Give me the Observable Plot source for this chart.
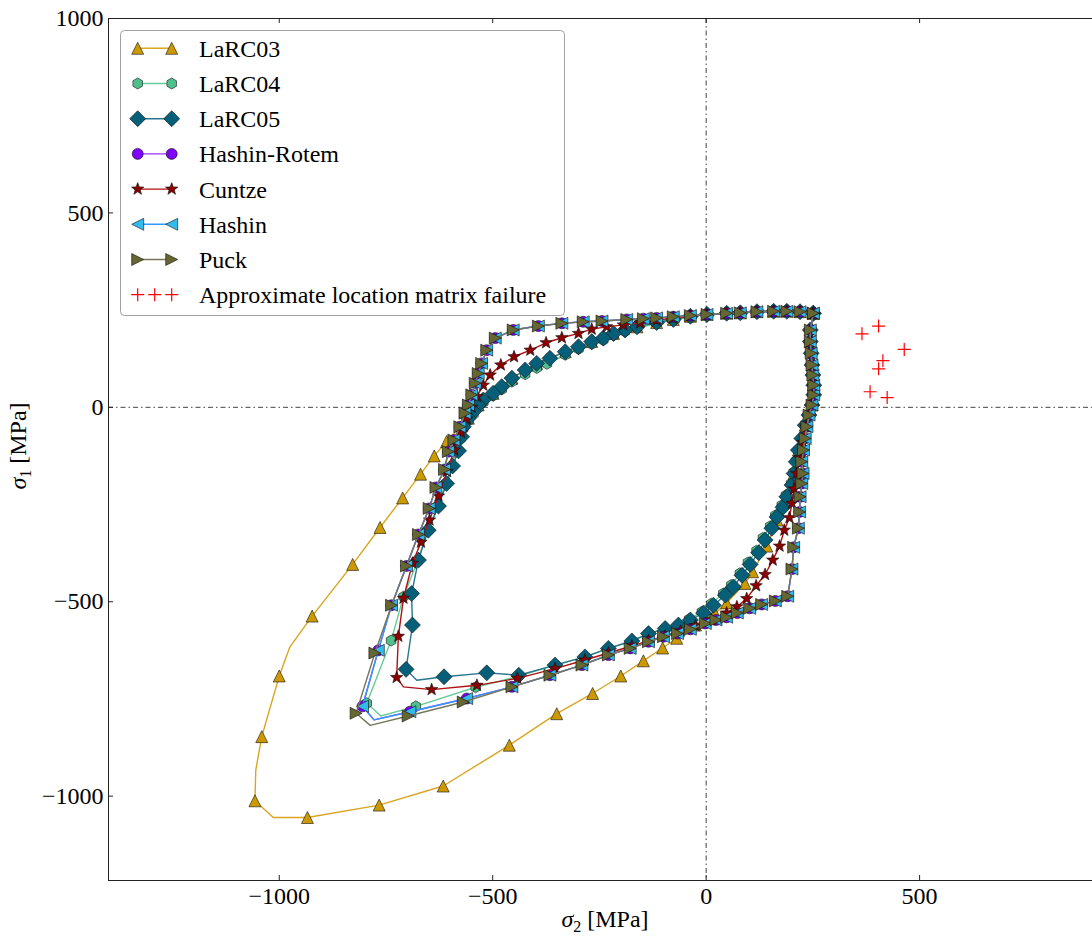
<!DOCTYPE html>
<html><head><meta charset="utf-8">
<script src="https://cdn.jsdelivr.net/npm/d3@7"></script>
<script src="https://cdn.jsdelivr.net/npm/@observablehq/plot@0.6"></script>
<style>body{margin:0;background:#fff} svg{display:block}</style>
</head><body><div id="chart"></div>
<script>
// ---- Data (σ2, σ1) in MPa; third element 0 = line vertex without marker ----
const seriesNames = ["LaRC03","LaRC04","LaRC05","Hashin-Rotem","Cuntze","Hashin","Puck"];
const matrixLabel = "Approximate location matrix failure";
const xTicks = [-1000,-500,0,500];
const yTicks = [-1000,-500,0,500,1000];

const larc03 = [[251,242],[220,246],[189,247],[158,247],[119,246],[80,243],[48,242],[2,239],[-37,234],[-77,226],[-116,218],[-162,207],[-217,190],[-268,169],[-330,143],[-397,113],[-455,75],[-499,36],[-534,6],[-557,-28],[-608,-88],[-637,-125],[-669,-172],[-711,-233],[-764,-309],[-828,-404],[-923,-537],[-975,-616,0],[-1000,-691],[-1041,-847],[-1055,-933,0],[-1057,-1012],[-1014,-1055,0],[-934,-1055],[-766,-1023],[-616,-974],[-461,-869],[-350,-788],[-266,-736],[-200,-691],[-147,-652],[-102,-619],[-69,-594],[-25,-560],[21,-530],[48,-503],[91,-453],[109,-423],[142,-357],[166,-290],[189,-230],[206,-170],[216,-110],[232,-46],[248,6],[252,57],[248,109],[244,169],[251,242]];

const larc04 = [[251,242],[220,246],[189,247],[158,247],[119,246],[80,243],[48,242],[2,239],[-37,234],[-77,225],[-116,216],[-162,204],[-190,195],[-217,185],[-241,173],[-268,163],[-299,150],[-330,135],[-373,112],[-397,101],[-424,85],[-455,66],[-479,46],[-499,30],[-522,13],[-534,0],[-545,-17],[-557,-34],[-569,-55],[-575,-80],[-582,-115],[-596,-154],[-610,-198],[-629,-256],[-653,-318],[-676,-395],[-709,-487],[-738,-600],[-795,-761],[-762,-794,0],[-680,-769],[-540,-720],[-440,-692],[-354,-663],[-284,-642],[-229,-620],[-174,-601],[-135,-582],[-96,-569],[-65,-560],[-40,-545],[-10,-526],[12,-505],[40,-479],[59,-457],[79,-427],[98,-399],[118,-369],[133,-336],[150,-306],[162,-278],[177,-252],[187,-226],[199,-196],[205,-167],[210,-138],[216,-110],[224,-80],[232,-46],[241,-20],[248,6],[252,32],[252,57],[250,83],[248,109],[246,139],[244,169],[244,199],[251,242]];

const larc05 = [[251,242],[220,246],[189,247],[158,247],[119,246],[80,243],[48,242],[2,239],[-37,234],[-77,226],[-116,218],[-162,207],[-190,199],[-217,190],[-241,178],[-268,169],[-299,156],[-330,143],[-366,126],[-397,113],[-424,96],[-455,75],[-479,53],[-499,36],[-522,19],[-534,6],[-545,-11],[-557,-28],[-569,-50],[-573,-76],[-580,-112],[-594,-151],[-608,-196],[-627,-254],[-651,-316],[-674,-393],[-690,-479],[-688,-560],[-703,-674],[-678,-702,0],[-614,-693],[-514,-683],[-439,-689],[-354,-663],[-284,-642],[-229,-620],[-174,-601],[-135,-582],[-96,-569],[-65,-560],[-37,-547],[-6,-529],[17,-509],[45,-483],[64,-462],[84,-432],[103,-404],[123,-374],[138,-341],[154,-311],[166,-282],[180,-257],[189,-230],[201,-200],[206,-170],[211,-140],[216,-110],[224,-80],[232,-46],[241,-20],[248,6],[252,32],[252,57],[250,83],[248,109],[246,139],[244,169],[244,199],[251,242]];

const hashinRotem = [[251,242],[220,246],[189,247],[158,247],[119,246],[80,243],[48,242],[2,239],[-37,236],[-77,233],[-116,230],[-147,228],[-186,226],[-244,222],[-288,220],[-338,216],[-393,209],[-452,199],[-494,178],[-514,147],[-526,113],[-534,87],[-541,62],[-549,32],[-557,6],[-565,-15],[-577,-50],[-591,-84],[-604,-114],[-613,-160],[-633,-206],[-649,-260],[-674,-327],[-702,-408],[-737,-509],[-768,-625],[-805,-769],[-778,-804,0],[-694,-783],[-561,-749],[-455,-719],[-366,-689],[-291,-663],[-229,-637],[-178,-620],[-135,-603],[-100,-590],[-67,-582],[-37,-571],[-2,-556],[23,-547],[48,-540],[73,-529],[102,-517],[130,-507],[162,-498],[191,-486],[201,-416],[205,-360],[216,-311],[219,-269],[220,-230],[224,-196],[227,-170],[224,-140],[228,-110],[232,-80],[236,-50],[241,-20],[248,6],[252,32],[252,57],[250,83],[248,109],[246,139],[244,169],[244,199],[251,242]];

const cuntze = [[251,242],[220,246],[189,247],[158,247],[119,246],[80,243],[48,242],[2,239],[-37,235],[-77,230],[-116,224],[-155,217],[-194,212],[-233,207],[-268,201],[-299,190],[-338,179],[-375,166],[-412,147],[-450,130],[-481,109],[-506,83],[-522,57],[-537,28],[-549,0],[-561,-30],[-574,-65],[-590,-110],[-607,-165],[-627,-228],[-648,-290],[-668,-347],[-688,-401],[-709,-491],[-721,-589],[-725,-695],[-709,-719,0],[-643,-726],[-537,-715],[-442,-697],[-354,-672],[-284,-650],[-229,-632],[-174,-614],[-135,-600],[-96,-588],[-60,-576],[-25,-562],[12,-546],[48,-529],[72,-513],[95,-492],[117,-459],[138,-430],[156,-393],[172,-357],[183,-316],[195,-284],[201,-247],[206,-210],[212,-170],[219,-130],[226,-90],[234,-50],[241,-20],[248,6],[252,32],[252,57],[250,83],[248,109],[246,139],[244,169],[244,199],[251,242]];

const hashin = [[251,242],[220,246],[189,247],[158,247],[119,246],[80,243],[48,242],[2,239],[-37,236],[-77,233],[-116,230],[-147,228],[-186,226],[-244,222],[-288,220],[-338,216],[-393,209],[-452,199],[-494,178],[-514,147],[-526,113],[-534,87],[-541,62],[-549,32],[-557,6],[-565,-15],[-577,-50],[-591,-84],[-604,-114],[-613,-160],[-633,-206],[-649,-260],[-674,-327],[-702,-408],[-737,-509],[-768,-625],[-805,-769],[-778,-804,0],[-694,-783],[-561,-749],[-455,-719],[-366,-689],[-291,-663],[-229,-637],[-178,-620],[-135,-603],[-100,-590],[-67,-582],[-37,-571],[-2,-556],[23,-547],[48,-540],[73,-529],[102,-517],[130,-507],[162,-498],[191,-486],[201,-416],[205,-360],[216,-311],[219,-269],[220,-230],[224,-196],[227,-170],[224,-140],[228,-110],[232,-80],[236,-50],[241,-20],[248,6],[252,32],[252,57],[250,83],[248,109],[246,139],[244,169],[244,199],[251,242]];

const puck = [[251,242],[220,246],[189,247],[158,247],[119,246],[80,243],[48,242],[2,239],[-37,236],[-77,233],[-116,230],[-147,228],[-186,226],[-244,222],[-288,220],[-338,216],[-393,209],[-452,199],[-494,178],[-514,147],[-526,113],[-534,87],[-541,62],[-549,32],[-557,6],[-565,-15],[-577,-50],[-591,-84],[-604,-114],[-613,-160],[-633,-206],[-649,-260],[-674,-327],[-702,-408],[-737,-509],[-776,-632],[-820,-787],[-787,-818,0],[-698,-794],[-569,-758],[-455,-719],[-366,-689],[-291,-663],[-229,-637],[-178,-620],[-135,-603],[-100,-590],[-67,-582],[-37,-571],[-2,-556],[23,-547],[48,-540],[73,-529],[102,-517],[130,-507],[162,-498],[191,-486],[201,-416],[205,-360],[216,-311],[219,-269],[220,-230],[224,-196],[227,-170],[224,-140],[228,-110],[232,-80],[236,-50],[241,-20],[248,6],[252,32],[252,57],[250,83],[248,109],[246,139],[244,169],[244,199],[251,242]];

const matrixX = [365,404,464,414,404,384,424];
const matrixY = [189,209,149,120,99,40,25];

// ---- Symbols (r = half-width in px) ----
const sym = f => ({draw(c, size){ const r = Math.sqrt(size/Math.PI); f(c, r); }});
const triUp = sym((c,r)=>{c.moveTo(0,-r);c.lineTo(r,r);c.lineTo(-r,r);c.closePath();});
const triLeft = sym((c,r)=>{c.moveTo(-r,0);c.lineTo(r,-r);c.lineTo(r,r);c.closePath();});
const triRight = sym((c,r)=>{c.moveTo(r,0);c.lineTo(-r,r);c.lineTo(-r,-r);c.closePath();});
const diamond = sym((c,r)=>{c.moveTo(0,-r);c.lineTo(r,0);c.lineTo(0,r);c.lineTo(-r,0);c.closePath();});
const hexagon = sym((c,r)=>{for(let i=0;i<6;i++){const a=-Math.PI/2+i*Math.PI/3;const X=r*Math.cos(a),Y=r*Math.sin(a);i?c.lineTo(X,Y):c.moveTo(X,Y);}c.closePath();});
const circle = sym((c,r)=>{c.moveTo(r,0);c.arc(0,0,r,0,2*Math.PI);c.closePath();});
const star = sym((c,r)=>{for(let i=0;i<10;i++){const a=-Math.PI/2+i*Math.PI/5;const rr=i%2?r*0.42:r;const X=rr*Math.cos(a),Y=rr*Math.sin(a);i?c.lineTo(X,Y):c.moveTo(X,Y);}c.closePath();});
const plus = sym((c,r)=>{c.moveTo(-r,0);c.lineTo(r,0);c.moveTo(0,-r);c.lineTo(0,r);});

const styles = [
  {data: larc03, line: "#daa520", fill: "#cc9900", symbol: triUp, r: 6},
  {data: larc04, line: "#66cc99", fill: "#4fc08d", symbol: hexagon, r: 5.5},
  {data: larc05, line: "#2a7590", fill: "#055f78", symbol: diamond, r: 8},
  {data: hashinRotem, line: "#9933ff", fill: "#7f00ff", symbol: circle, r: 5.5},
  {data: cuntze, line: "#b01010", fill: "#8b0000", symbol: star, r: 6.5},
  {data: hashin, line: "#3399ff", fill: "#33bbee", symbol: triLeft, r: 6},
  {data: puck, line: "#77775a", fill: "#666633", symbol: triRight, r: 6}
];

const W = 1092, H = 938, mL = 108, mR = 0, mT = 18, mB = 58;
const plotW = W - mL - mR, plotH = H - mT - mB;
const FONT = "'Liberation Serif', 'DejaVu Serif', serif";
const fmt = d => d < 0 ? "\u2212" + Math.abs(d) : String(d);

const marks = [
  Plot.ruleX([0], {stroke: "#444", strokeWidth: 1, strokeDasharray: "5,3,1.5,3"}),
  Plot.ruleY([0], {stroke: "#444", strokeWidth: 1, strokeDasharray: "5,3,1.5,3"})
];
styles.forEach((s, k) => {
  const rows = s.data.map(p => ({x: p[0], y: p[1], m: p.length < 3}));
  marks.push(Plot.line(rows, {x: "x", y: "y", stroke: s.line, strokeWidth: 1.4, curve: "linear"}));
  marks.push(Plot.dot(rows.filter(d => d.m), {x: "x", y: "y", symbol: s.symbol, r: s.r, fill: s.fill, stroke: "#111", strokeWidth: 0.6}));
});
const mrows = matrixX.map((x, i) => ({x, y: matrixY[i]}));
marks.push(Plot.dot(mrows, {x: "x", y: "y", symbol: plus, r: 6.5, stroke: "#ff0000", strokeWidth: 1.2, fill: "none"}));

// frame (left, top, bottom) and inward ticks
marks.push(Plot.ruleX([-1400], {stroke: "#222", strokeWidth: 1}));
marks.push(Plot.ruleY([1000, -1217], {stroke: "#222", strokeWidth: 1}));
marks.push(Plot.ruleX(xTicks, {stroke: "#222", insetTop: plotH - 5}));
marks.push(Plot.ruleX(xTicks, {stroke: "#222", insetBottom: plotH - 5}));
marks.push(Plot.ruleY(yTicks, {stroke: "#222", insetRight: plotW - 5}));
marks.push(Plot.axisX(xTicks, {tickSize: 0, tickPadding: 6, tickFormat: fmt, fontSize: 24, fontFamily: FONT, label: null, fill: "#000"}));
marks.push(Plot.axisY(yTicks, {tickSize: 0, tickPadding: 5, tickFormat: fmt, fontSize: 24, fontFamily: FONT, label: null, fill: "#000"}));

const chart = Plot.plot({
  width: W, height: H,
  marginLeft: mL, marginRight: mR, marginTop: mT, marginBottom: mB,
  x: {domain: [-1400, 905]},
  y: {domain: [-1217, 1000]},
  style: {fontFamily: FONT, fontSize: "24px", background: "#fff", color: "#000"},
  marks
});
document.getElementById("chart").appendChild(chart);

// ---- axis titles ----
const svg = d3.select(chart);
const xl = svg.append("text").attr("x", 605).attr("y", 927).attr("text-anchor", "middle")
  .attr("font-family", FONT).attr("font-size", 24).attr("fill", "#000");
xl.append("tspan").attr("font-style", "italic").text("σ");
xl.append("tspan").attr("font-size", 16).attr("dy", 5).text("2");
xl.append("tspan").attr("dy", -5).text(" [MPa]");
const yl = svg.append("text").attr("transform", "translate(26,446) rotate(-90)").attr("text-anchor", "middle")
  .attr("font-family", FONT).attr("font-size", 24).attr("fill", "#000");
yl.append("tspan").attr("font-style", "italic").text("σ");
yl.append("tspan").attr("font-size", 16).attr("dy", 5).text("1");
yl.append("tspan").attr("dy", -5).text(" [MPa]");

// ---- legend ----
const lg = svg.append("g").attr("font-family", FONT).attr("font-size", 24).attr("text-anchor", "start");
lg.append("rect").attr("x", 120.5).attr("y", 30.5).attr("width", 444).attr("height", 285).attr("rx", 4)
  .attr("fill", "#fff").attr("stroke", "#a0a0a0").attr("stroke-width", 1);
const symPath = (s, r) => { const p = d3.path(); s.draw(p, Math.PI * r * r); return p.toString(); };
const rowY = i => 48.3 + i * 35.2;
styles.forEach((s, i) => {
  const y = rowY(i);
  lg.append("line").attr("x1", 137.7).attr("x2", 171.7).attr("y1", y).attr("y2", y).attr("stroke", s.line).attr("stroke-width", 1.4);
  [137.7, 171.7].forEach(x => lg.append("path").attr("d", symPath(s.symbol, s.r)).attr("transform", `translate(${x},${y})`)
    .attr("fill", s.fill).attr("stroke", "#111").attr("stroke-width", 0.6));
  lg.append("text").attr("x", 199).attr("y", y).attr("dy", "0.35em").attr("text-anchor", "start").attr("fill", "#000").text(seriesNames[i]);
});
{
  const y = rowY(7);
  [137.7, 154.7, 171.7].forEach(x => lg.append("path").attr("d", symPath(plus, 6.5)).attr("transform", `translate(${x},${y})`)
    .attr("fill", "none").attr("stroke", "#ff0000").attr("stroke-width", 1.2));
  lg.append("text").attr("x", 199).attr("y", y).attr("dy", "0.35em").attr("text-anchor", "start").attr("fill", "#000").text(matrixLabel);
}
</script>
</body></html>
